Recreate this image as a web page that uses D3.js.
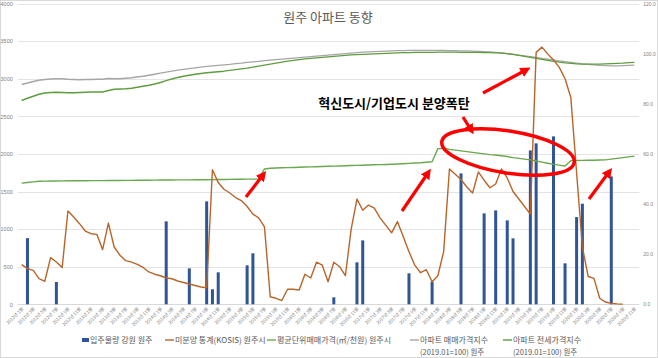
<!DOCTYPE html>
<html><head><meta charset="utf-8">
<script src="https://cdn.jsdelivr.net/npm/d3@7"></script>
<style>
html,body{margin:0;padding:0;background:#fff;}
svg{display:block;font-family:"Noto Sans CJK KR","Noto Sans",sans-serif;}
</style></head>
<body>
<svg id="c" width="658" height="358"></svg>
<script>
// ---- data ----
const startYear = 2012, startMonth = 1, monthCount = 107;
const categories = [];
for (let k = 0; k < monthCount; k++) {
  const m = (startMonth - 1 + k);
  categories.push((startYear + Math.floor(m / 12)) + "년 " + (m % 12 + 1) + "월");
}
const leftTicks = [0, 500, 1000, 1500, 2000, 2500, 3000, 3500, 4000];
const rightTicks = [0, 20, 40, 60, 80, 100, 120];

// 입주물량 강원 원주 (month index, units)
const moveInIdx = [1, 6, 25, 29, 32, 33, 34, 39, 40, 54, 58, 59, 67, 71, 76, 80, 82, 84, 85, 88, 89, 92, 94, 96, 97, 102];
const moveInVal = [880, 297, 1103, 478, 1369, 200, 425, 518, 678, 93, 558, 850, 412, 300, 1741, 1209, 1249, 1116, 877, 2046, 2140, 2233, 545, 1160, 1338, 1701];

// 미분양 통계(KOSIS) 원주시
const unsold = [527, 474, 452, 341, 306, 620, 562, 488, 1240, 1160, 1072, 974, 939, 930, 727, 1080, 762, 651,
  580, 560, 530, 490, 430, 400, 380, 350, 340, 310, 290, 270, 250, 230, 220, 1790, 1620, 1530, 1480, 1420, 1380, 1300,
  1200, 1150, 1030, 100, 80, 50, 200, 200, 190, 400, 350, 560, 520, 300, 560, 500, 380, 1000, 1400, 1250,
  1320, 1280, 1150, 1050, 950, 1100, 900, 700, 520, 420, 460, 300, 380, 700, 1800, 1730, 1660, 1560, 1480, 1760,
  1650, 1550, 1600, 1800, 1680, 1500, 1400, 1300, 1200, 3350, 3420, 3330, 3250, 3150, 3000, 2750, 1750, 760, 370, 345,
  80, 30, 13, 5, 2, null, null];

// 평균단위매매가격(㎡/천원) 원주시
const unitPrice = [1612, 1620, 1628, 1636, 1638, 1640, 1640, 1641, 1642, 1642, 1643, 1643, 1644, 1645, 1645, 1646, 1646, 1647, 1648, 1648,
  1649, 1650, 1650, 1651, 1652, 1652, 1653, 1654, 1654, 1655, 1656, 1657, 1657, 1658, 1659, 1660, 1661, 1662, 1663, 1664,
  1664, 1665, 1800, 1810, 1812, 1815, 1818, 1820, 1822, 1825, 1828, 1830, 1832, 1835, 1838, 1840, 1843, 1846, 1848, 1850,
  1853, 1856, 1858, 1860, 1863, 1866, 1870, 1874, 1878, 1882, 1888, 1895, 2070, 2075, 2060, 2050, 2040, 2030, 2020, 2010,
  2000, 1990, 1985, 1975, 1965, 1950, 1940, 1930, 1920, 1905, 1890, 1875, 1860, 1850, 1840, 1910, 1912, 1914, 1915, 1916,
  1918, 1920, 1930, 1940, 1950, 1960, 1970];

// 아파트 매매가격지수 (2019.01=100) 원주
const saleIndex = [87.7, 88.3, 88.9, 89.4, 89.7, 89.9, 90.0, 90.0, 89.8, 89.7, 89.6, 89.7, 89.7, 89.8, 89.8, 90.1, 90.0, 90.0, 90.2, 90.4,
  90.7, 91.0, 91.4, 91.8, 92.2, 92.6, 93.0, 93.4, 93.7, 94.0, 94.3, 94.6, 94.9, 95.1, 95.3, 95.5, 95.7, 96.0, 96.2, 96.5,
  96.7, 96.9, 97.2, 97.4, 97.6, 97.8, 98.0, 98.2, 98.4, 98.6, 98.8, 99.0, 99.2, 99.4, 99.6, 99.8, 100.0, 100.2, 100.4, 100.6,
  100.7, 100.8, 100.9, 101.0, 101.1, 101.2, 101.2, 101.3, 101.3, 101.3, 101.3, 101.3, 101.3, 101.3, 101.2, 101.2, 101.1, 101.1, 101.0, 100.9,
  100.8, 100.7, 100.5, 100.3, 100.0, 99.7, 99.4, 99.1, 98.8, 98.5, 98.1, 97.8, 97.5, 97.1, 96.8, 96.5, 96.2, 95.9, 95.7, 95.5,
  95.3, 95.2, 95.1, 95.1, 95.2, 95.3, 95.4];

// 아파트 전세가격지수 (2019.01=100) 원주
const jeonseIndex = [81.3, 82.2, 83.0, 83.8, 84.3, 84.5, 84.6, 84.5, 84.4, 84.4, 84.5, 84.6, 84.7, 84.7, 84.7, 85.3, 85.8, 85.9, 86.0, 86.2,
  86.6, 87.0, 87.4, 87.9, 88.5, 89.2, 89.9, 90.5, 91.0, 91.4, 91.8, 92.1, 92.4, 92.6, 92.8, 93.0, 93.3, 93.6, 93.9, 94.2,
  94.6, 95.0, 95.4, 95.8, 96.2, 96.6, 97.0, 97.3, 97.6, 97.9, 98.1, 98.3, 98.5, 98.7, 98.9, 99.1, 99.3, 99.5, 99.6, 99.7,
  99.8, 99.9, 100.0, 100.1, 100.2, 100.3, 100.4, 100.4, 100.5, 100.5, 100.5, 100.5, 100.6, 100.6, 100.6, 100.6, 100.5, 100.5, 100.5, 100.5,
  100.4, 100.4, 100.3, 100.2, 100.0, 99.7, 99.3, 98.9, 98.5, 98.1, 97.7, 97.3, 96.9, 96.6, 96.3, 96.1, 95.9, 95.8, 95.8, 95.8,
  95.8, 95.9, 96.0, 96.1, 96.2, 96.4, 96.5];

const title = "원주 아파트 동향";
const annotationText = "혁신도시/기업도시 분양폭탄";
const legendItems = [
  {name: "입주물량 강원 원주", type: "bar", color: "#2F5597"},
  {name: "미분양 통계(KOSIS) 원주시", type: "line", color: "#B8652A"},
  {name: "평균단위매매가격(㎡/천원) 원주시", type: "line", color: "#6AA84F"},
  {name: "아파트 매매가격지수", sub: "(2019.01=100) 원주", type: "line", color: "#A6A6A6"},
  {name: "아파트 전세가격지수", sub: "(2019.01=100) 원주", type: "line", color: "#5E9C3E"}
];

// ---- drawing ----
const svg = d3.select("#c");
const W = 658, H = 358;
const plotL = 18.8, plotR = 637.3, plotT = 3.5, plotB = 304.3;

svg.append("rect").attr("x", 0.5).attr("y", 0.5).attr("width", W - 1).attr("height", H - 1)
  .attr("fill", "#fff").attr("stroke", "#d9d9d9");

const x = d3.scaleBand().domain(categories).range([plotL, plotR]).padding(0);
const xc = i => x(categories[i]) + x.bandwidth() / 2;
const yL = d3.scaleLinear().domain([0, 4000]).range([plotB, plotT]);
const yR = d3.scaleLinear().domain([0, 120]).range([plotB, plotT]);

// gridlines
svg.append("g").selectAll("line").data(leftTicks.slice(1)).join("line")
  .attr("x1", plotL - 1).attr("x2", plotR + 2)
  .attr("y1", d => Math.round(yL(d)) + 0.5).attr("y2", d => Math.round(yL(d)) + 0.5)
  .attr("stroke", "#e4e4e4").attr("stroke-width", 1);

// left axis
const axL = svg.append("g").attr("transform", `translate(${plotL - 3},0)`)
  .call(d3.axisLeft(yL).tickValues(leftTicks).tickSize(0).tickFormat(d3.format("d")));
axL.select(".domain").remove();
axL.selectAll("text").attr("fill", "#7f7f7f").style("font-size", "5.5px").attr("dx", "0");

// right axis
const axR = svg.append("g").attr("transform", `translate(${plotR + 5},0)`)
  .call(d3.axisRight(yR).tickValues(rightTicks).tickSize(0).tickFormat(d3.format(".1f")));
axR.select(".domain").remove();
axR.selectAll("text").attr("fill", "#7f7f7f").style("font-size", "5px").attr("dx", "0").attr("x", 1);

// x baseline
svg.append("line").attr("x1", plotL - 1).attr("x2", plotR + 2)
  .attr("y1", Math.round(plotB) + 0.5).attr("y2", Math.round(plotB) + 0.5).attr("stroke", "#d9d9d9");

// x labels (every 2 months)
svg.append("g").selectAll("text").data(categories.filter((d, i) => i % 2 === 0)).join("text")
  .attr("transform", d => `translate(${x(d) + x.bandwidth() / 2 + 2},${plotB + 5}) rotate(-45)`)
  .attr("text-anchor", "end").attr("fill", "#7f7f7f").style("font-size", "4.5px").text(d => d);

// title
svg.append("text").attr("x", 328).attr("y", 22).attr("text-anchor", "middle")
  .attr("fill", "#595959").style("font-size", "13px").text(title);

// bars
const bw = 3;
svg.append("g").selectAll("rect").data(moveInIdx.map((d, k) => ({i: d, v: moveInVal[k]}))).join("rect")
  .attr("x", d => xc(d.i) - bw / 2).attr("width", bw)
  .attr("y", d => yL(d.v)).attr("height", d => yL(0) - yL(d.v))
  .attr("fill", "#2F5597");

function drawLine(vals, scale, color, w) {
  const line = d3.line().defined(d => d != null).x((d, i) => xc(i)).y(d => scale(d));
  svg.append("path").datum(vals).attr("d", line).attr("fill", "none")
    .attr("stroke", color).attr("stroke-width", w).attr("stroke-linejoin", "round");
}
drawLine(unitPrice, yL, "#6AA84F", 1.4);
drawLine(saleIndex, yR, "#A6A6A6", 1.4);
drawLine(jeonseIndex, yR, "#5E9C3E", 1.4);
drawLine(unsold, yL, "#B8652A", 1.4);

// annotations
const defs = svg.append("defs");
defs.append("marker").attr("id", "ah").attr("viewBox", "0 0 10 10").attr("refX", 5).attr("refY", 5)
  .attr("markerWidth", 3.2).attr("markerHeight", 3.2).attr("orient", "auto")
  .append("path").attr("d", "M0,0 L10,5 L0,10 z").attr("fill", "#ff0000");
const arrows = [
  [246, 197, 263, 175],
  [402, 211, 428, 173],
  [463, 117, 471, 130],
  [483, 93, 526, 70],
  [589, 199, 609, 172]
];
svg.append("g").selectAll("line").data(arrows).join("line")
  .attr("x1", d => d[0]).attr("y1", d => d[1]).attr("x2", d => d[2]).attr("y2", d => d[3])
  .attr("stroke", "#ff0000").attr("stroke-width", 3.2).attr("marker-end", "url(#ah)");
svg.append("ellipse").attr("cx", 508).attr("cy", 152).attr("rx", 67).attr("ry", 21)
  .attr("transform", "rotate(9,508,152)")
  .attr("fill", "none").attr("stroke", "#ff0000").attr("stroke-width", 3.5);
svg.append("text").attr("x", 394).attr("y", 108).attr("text-anchor", "middle")
  .attr("fill", "#000").style("font-size", "13px").style("font-weight", "bold").text(annotationText);

// legend
const lg = svg.append("g").style("font-size", "8px");
const legendX = [82, 165, 267, 410, 503];
legendItems.forEach((it, k) => {
  const gx = legendX[k], gy = 340;
  if (it.type === "bar") {
    lg.append("rect").attr("x", gx).attr("y", gy - 2).attr("width", 7).attr("height", 4).attr("fill", it.color);
  } else {
    lg.append("line").attr("x1", gx).attr("x2", gx + 9).attr("y1", gy).attr("y2", gy)
      .attr("stroke", it.color).attr("stroke-width", 1.4);
  }
  lg.append("text").attr("x", gx + (it.type === "bar" ? 8 : 10)).attr("y", gy + 3)
    .attr("fill", "#595959").text(it.name);
  if (it.sub) lg.append("text").attr("x", gx + 10).attr("y", gy + 15).attr("fill", "#595959")
    .style("font-size", "7.5px").text(it.sub);
});
</script>
</body></html>
